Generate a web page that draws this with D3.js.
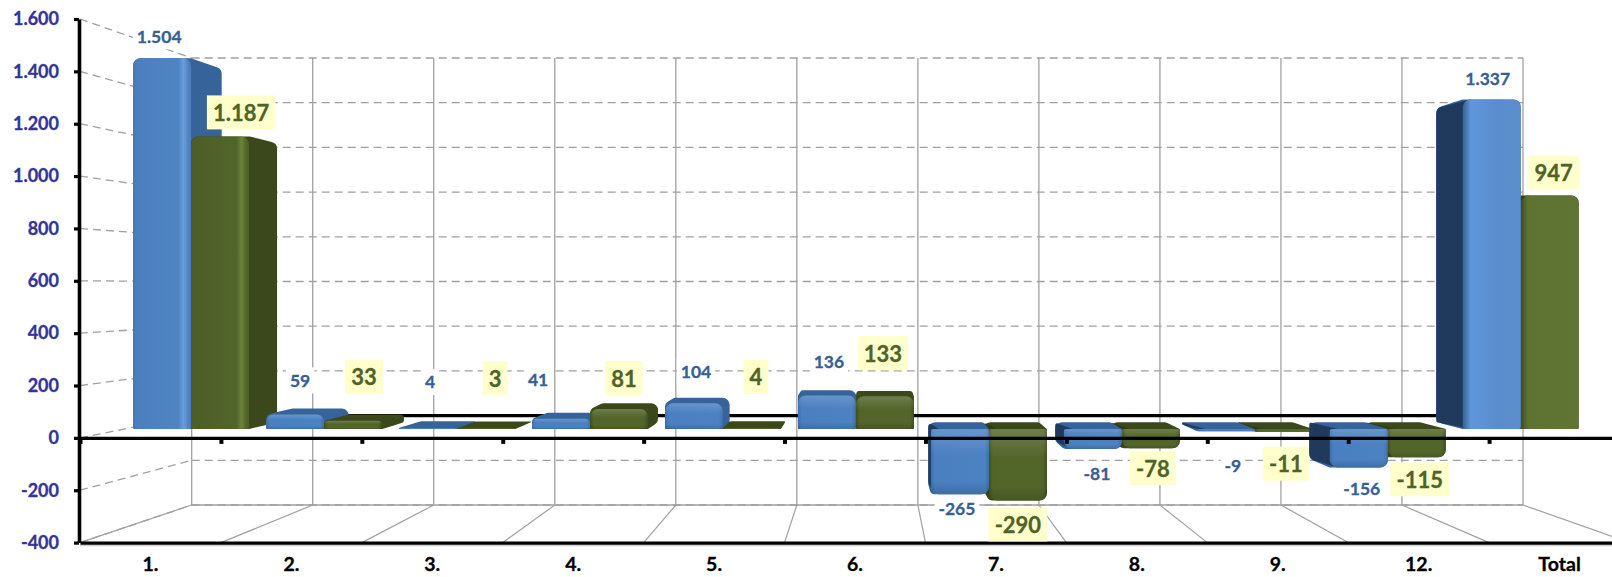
<!DOCTYPE html>
<html>
<head>
  <meta charset="utf-8">
  <script src="https://d3js.org/d3.v7.min.js"></script>
  <style>
    html, body { margin: 0; padding: 0; background: #fff; }
    svg { display: block; }
    text { font-family: Lato, "Open Sans", sans-serif; font-weight: 700; }
  </style>
</head>
<body>
<script>
// values
var categories = ["1.", "2.", "3.", "4.", "5.", "6.", "7.", "8.", "9.", "12.", "Total"];
var blueValues = [1504, 59, 4, 41, 104, 136, -265, -81, -9, -156, 1337];
var greenValues = [1187, 33, 3, 81, 4, 133, -290, -78, -11, -115, 947];
var yTicks = [1600, 1400, 1200, 1000, 800, 600, 400, 200, 0, -200, -400];

// hand placed label nudges, relative to the end of each bar
var blueNudge = [[-3, -22], [5, -34], [2, -46], [-23, -39], [2, -32], [2, -34], [-3, 14], [4, 25], [7, 34], [3, 21], [-4, -21]];
var greenNudge = [[21, -24], [11, -44], [9, -50], [5, -31], [4, -51], [-2, -43], [0, 24], [2, 20], [2, 32], [3, 22], [4, -23]];

var width = 1612, height = 577;
var fmt = d3.formatLocale({decimal: ",", thousands: ".", grouping: [3], currency: ["", ""], minus: "-"}).format(",d");

var svg = d3.select("body").append("svg").attr("width", width).attr("height", height);

// the chart is a box: a back wall and a front plane, depth t runs 0 (back) to 1 (front)
var n = categories.length;
var xBack = d3.scaleLinear().domain([0, n]).range([191.7, 1523]);
var xFront = d3.scaleLinear().domain([0, n]).range([80, 1630]);
var yBack = d3.scaleLinear().domain([-400, 1600]).range([505, 58]);
var yFront = d3.scaleLinear().domain([-400, 1600]).range([542.6, 19]);
function xAt(u, t) { return xBack(u) + (xFront(u) - xBack(u)) * t; }
function yAt(v, t) { return yBack(v) + (yFront(v) - yBack(v)) * t; }

var barFront = 0.6, barBack = 0.3, barWidth = 0.436;

var defs = svg.append("defs");
function gradient(id, stops, vertical) {
  var g = defs.append("linearGradient").attr("id", id);
  if (vertical) g.attr("x2", 0).attr("y2", 1);
  stops.forEach(function (s) {
    g.append("stop").attr("offset", s[0]).attr("stop-color", s[1]).attr("stop-opacity", s[2] === undefined ? 1 : s[2]);
  });
}
gradient("blueStrip", [[0, "#4577b3"], [0.06, "#4b7fbf"], [0.78, "#4f84c3"], [0.87, "#6a9edb"], [0.94, "#5387c6"], [1, "#4a7ab5"]]);
gradient("greenStrip", [[0, "#4d5f27"], [0.78, "#51642a"], [0.87, "#6c8439"], [0.94, "#54682b"], [1, "#4c5e26"]]);
gradient("bluePlain", [[0, "#3f70ad"], [0.07, "#4a7fc0"], [0.93, "#4c82c2"], [1, "#3f6fa8"]]);
gradient("greenPlain", [[0, "#414f1f"], [0.07, "#53662a"], [0.93, "#53662a"], [1, "#414f1f"]]);
gradient("blueTotal", [[0, "#37628f"], [0.14, "#5f96dc"], [0.6, "#5a8dce"], [1, "#5c8ecd"]]);
gradient("greenTotal", [[0, "#3b4a1b"], [0.12, "#5e7232"], [1, "#607434"]]);
gradient("sheen", [[0, "#fff", 0.16], [0.4, "#fff", 0], [0.8, "#000", 0], [1, "#000", 0.15]], true);

// polygon with its own corner radius at each point
function roundPoly(pts, radii) {
  var p = d3.path(), m = pts.length;
  var start = [(pts[m - 1][0] + pts[0][0]) / 2, (pts[m - 1][1] + pts[0][1]) / 2];
  p.moveTo(start[0], start[1]);
  pts.forEach(function (pt, i) {
    var next = pts[(i + 1) % m], prev = pts[(i + m - 1) % m];
    var d1 = Math.hypot(pt[0] - prev[0], pt[1] - prev[1]);
    var d2 = Math.hypot(pt[0] - next[0], pt[1] - next[1]);
    var r = Math.min(radii[i], d1 / 2, d2 / 2);
    p.arcTo(pt[0], pt[1], next[0], next[1], r);
  });
  p.closePath();
  return p.toString();
}

/* walls */
var walls = svg.append("g");
yTicks.forEach(function (v) {
  walls.append("line").attr("x1", xFront(0)).attr("y1", yFront(v)).attr("x2", xBack(0)).attr("y2", yBack(v))
    .attr("stroke", "#a0a0a0").attr("stroke-width", 1.3).attr("stroke-dasharray", "8,5");
  if (v !== 0) {
    walls.append("line").attr("x1", xBack(0)).attr("y1", yBack(v)).attr("x2", xBack(n)).attr("y2", yBack(v))
      .attr("stroke", "#a0a0a0").attr("stroke-width", 1.3).attr("stroke-dasharray", "8,5");
  }
});
d3.range(0, n + 1).forEach(function (u) {
  walls.append("line").attr("x1", xBack(u)).attr("y1", yBack(1600)).attr("x2", xBack(u)).attr("y2", yBack(-400))
    .attr("stroke", "#a0a0a0").attr("stroke-width", 1.3);
  walls.append("line").attr("x1", xBack(u)).attr("y1", yBack(-400)).attr("x2", xFront(u)).attr("y2", yFront(-400))
    .attr("stroke", "#a0a0a0").attr("stroke-width", 1.2);
});
walls.append("line").attr("x1", xBack(0)).attr("y1", yBack(-400)).attr("x2", xBack(n)).attr("y2", yBack(-400))
  .attr("stroke", "#a0a0a0").attr("stroke-width", 1.3);
// zero line on the back wall, the first bars hide where it starts
walls.append("line").attr("x1", xBack(0.9)).attr("y1", yBack(0)).attr("x2", xBack(10.3)).attr("y2", yBack(0))
  .attr("stroke", "#000").attr("stroke-width", 3.2);

/* bars */
var bars = svg.append("g");
var blueStyle = {strip: "url(#blueStrip)", plain: "url(#bluePlain)", total: "url(#blueTotal)", body: "#36639a", sideLeft: "#1f3a5c"};
var greenStyle = {strip: "url(#greenStrip)", plain: "url(#greenPlain)", total: "url(#greenTotal)", body: "#3a481b", sideLeft: "#2f3b17"};

function drawBar(i, v, u0, u1, style) {
  var xl = xAt(u0, barFront), xr = xAt(u1, barFront);
  var xlB = xAt(u0, barBack), xrB = xAt(u1, barBack);
  var end = yAt(v, barFront), base = yAt(0, barFront);
  var endB = yAt(v, barBack), baseB = yAt(0, barBack);
  var r = 8;

  // whatever shows behind the front face: top and far side as one rounded shape
  var hull = d3.polygonHull([[xl, end], [xr, end], [xr, base], [xl, base], [xlB, endB], [xrB, endB], [xrB, baseB], [xlB, baseB]]);
  var radii = hull.map(function (p) { return p[1] === base ? 1 : 7; });
  bars.append("path").attr("fill", style.body).attr("d", roundPoly(hull, radii));

  // the dark left side right of the vanishing point
  if (xlB < xl) {
    bars.append("path").attr("fill", style.sideLeft)
      .attr("d", roundPoly([[xl + r, end], [xlB, endB], [xlB, baseB], [xl + r, base]], [0, r, 2, 0]));
  }

  // front face, round at the value end
  var face = i === n - 1 ? style.total : (i === 0 ? style.strip : style.plain);
  var front = roundPoly([[xl, end], [xr, end], [xr, base], [xl, base]], [r, r, 2, 2]);
  bars.append("path").attr("fill", face).attr("d", front);
  if (Math.abs(end - base) < 90 && Math.abs(end - base) > 3) {
    bars.append("path").attr("fill", "url(#sheen)").attr("d", front);
  }
}

categories.forEach(function (c, i) {
  var mid = i + 0.5;
  var drawBlue = function () { drawBar(i, blueValues[i], mid - barWidth, mid, blueStyle); };
  var drawGreen = function () { drawBar(i, greenValues[i], mid, mid + barWidth, greenStyle); };
  if (i < 6) { drawBlue(); drawGreen(); } else { drawGreen(); drawBlue(); }
});

/* axes */
var yAxis = svg.append("g").attr("transform", "translate(79,0)")
  .call(d3.axisLeft(yFront).tickValues(yTicks).tickFormat(fmt).tickSize(5).tickSizeOuter(0).tickPadding(15));
yAxis.select(".domain").attr("stroke", "#000").attr("stroke-width", 3.6);
yAxis.selectAll(".tick line").attr("stroke", "#000").attr("stroke-width", 3.2);
yAxis.selectAll("text").attr("fill", "#333399").attr("stroke", "#333399").attr("stroke-width", 0.3)
  .style("font-size", "18px").style("font-family", "Lato, sans-serif");

var zeroAxis = svg.append("g").attr("transform", "translate(0," + yFront(0) + ")")
  .call(d3.axisBottom(xFront).tickValues(d3.range(0, n + 1)).tickFormat("").tickSize(6).tickSizeOuter(0));
zeroAxis.select(".domain").attr("stroke", "#000").attr("stroke-width", 3.2);
zeroAxis.selectAll(".tick line").attr("stroke", "#000").attr("stroke-width", 4);

var xBand = d3.scaleBand().domain(categories).range(xFront.range());
svg.append("line").attr("x1", 80).attr("x2", width).attr("y1", yFront(-400) + 3).attr("y2", yFront(-400) + 3)
  .attr("stroke", "#cfcfcf").attr("stroke-width", 1.5);
var xAxis = svg.append("g").attr("transform", "translate(0," + yFront(-400) + ")")
  .call(d3.axisBottom(xBand).tickSize(0).tickPadding(15));
xAxis.select(".domain").attr("stroke", "#000").attr("stroke-width", 3.2);
xAxis.selectAll("text").attr("fill", "#000").attr("stroke", "#000").attr("stroke-width", 0.3)
  .style("font-size", "19.5px").style("font-family", "Lato, sans-serif");

/* data labels */
var labels = svg.append("g");
function addLabel(v, u, nudge, color, size, bg, padX, boxH) {
  var x = xAt(u, barFront) + nudge[0], y = yAt(v, barFront) + nudge[1];
  var box = labels.append("rect").attr("fill", bg);
  var t = labels.append("text").attr("x", x).attr("y", y).attr("text-anchor", "middle")
    .attr("dominant-baseline", "central").attr("fill", color).attr("stroke", color).attr("stroke-width", 0.3)
    .style("font-size", size + "px").text(fmt(v));
  var w = t.node().getBBox().width + padX * 2;
  box.attr("x", x - w / 2).attr("y", y - boxH / 2).attr("width", w).attr("height", boxH);
}
categories.forEach(function (c, i) {
  addLabel(blueValues[i], i + 0.5 - barWidth / 2, blueNudge[i], "#376092", 17.5, "#fff", 4, 26);
  addLabel(greenValues[i], i + 0.5 + barWidth / 2, greenNudge[i], "#4f6228", 22, "#ffffcc", 6, 34);
});
</script>
</body>
</html>
